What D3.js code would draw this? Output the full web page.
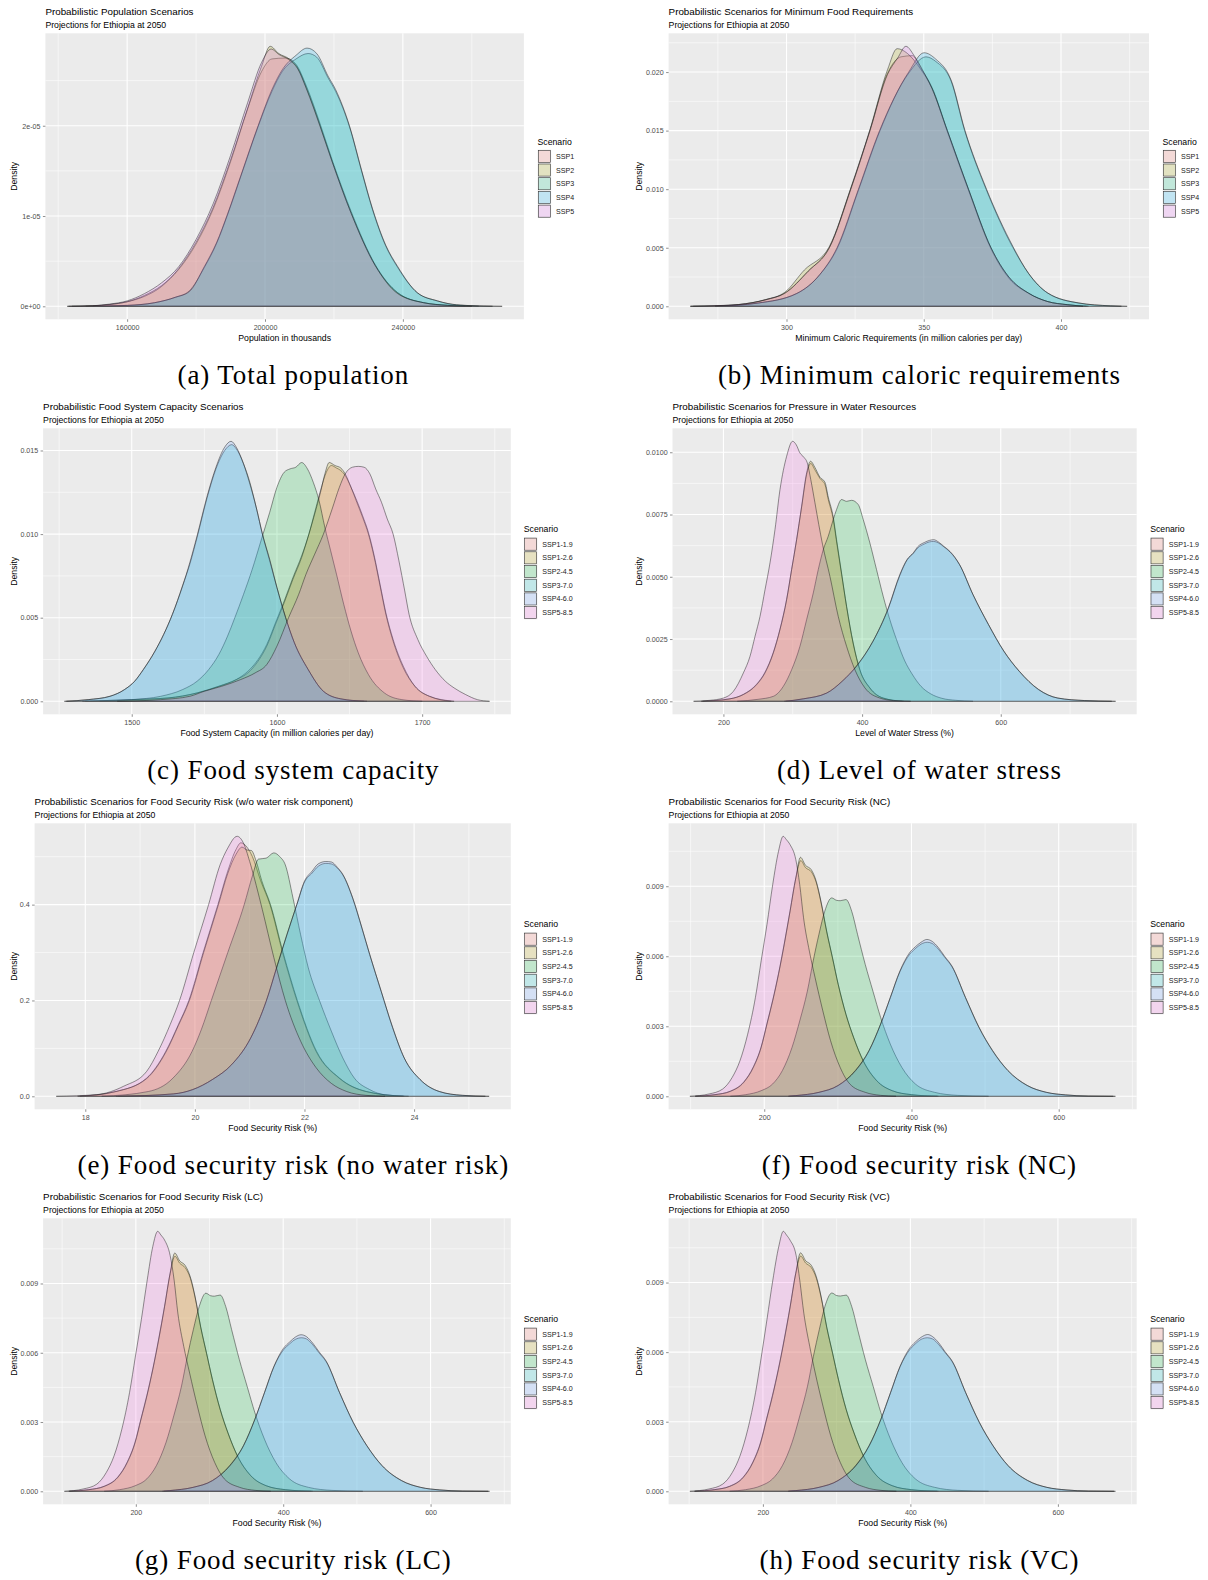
<!DOCTYPE html>
<html>
<head>
<meta charset="utf-8">
<script src="https://cdn.jsdelivr.net/npm/d3@7"></script>
<style>
  body { margin: 0; background: #fff; }
  svg { display: block; }
</style>
</head>
<body>
<svg id="fig" width="1208" height="1580"></svg>
<script>
// ---------- scenario names and ggplot default hue palettes ----------
const scen5 = ["SSP1", "SSP2", "SSP3", "SSP4", "SSP5"];
const scen6 = ["SSP1-1.9", "SSP1-2.6", "SSP2-4.5", "SSP3-7.0", "SSP4-6.0", "SSP5-8.5"];
const pal5 = ["#F8766D", "#A3A500", "#00BF7D", "#00B0F6", "#E76BF3"];
const pal6 = ["#F8766D", "#B79F00", "#00BA38", "#00BFC4", "#619CFF", "#F564E3"];

// ---------- (a) total population: [thousands, density] ----------
const popSSP1 = [[142600,0],[150000,0.006e-5],[155000,0.02e-5],[160000,0.05e-5],[165000,0.12e-5],[170000,0.23e-5],[175000,0.41e-5],[180000,0.69e-5],[185000,1.08e-5],[190000,1.6e-5],[195000,2.19e-5],[199000,2.6e-5],[202000,2.74e-5],[206000,2.75e-5],[209000,2.68e-5],[212000,2.44e-5],[216000,2.02e-5],[219500,1.62e-5],[225000,1.05e-5],[232000,0.46e-5],[238500,0.15e-5],[246000,0.04e-5],[253000,0.01e-5],[258000,0]];
const popSSP2 = [[144000,0],[150000,0.005e-5],[155000,0.02e-5],[160000,0.05e-5],[165000,0.11e-5],[170000,0.22e-5],[175000,0.42e-5],[180000,0.71e-5],[185000,1.1e-5],[190000,1.62e-5],[195000,2.2e-5],[199000,2.66e-5],[201500,2.88e-5],[204000,2.8e-5],[207000,2.74e-5],[209500,2.64e-5],[212000,2.42e-5],[216000,2.0e-5],[219500,1.6e-5],[225000,1.03e-5],[232000,0.45e-5],[238500,0.15e-5],[246000,0.04e-5],[254000,0.01e-5],[262000,0]];
const popSSP3 = [[150000,0],[160000,0.01e-5],[168000,0.04e-5],[174000,0.1e-5],[178000,0.17e-5],[182400,0.43e-5],[186000,0.7e-5],[189200,1.02e-5],[193000,1.44e-5],[198000,1.99e-5],[202000,2.38e-5],[205000,2.6e-5],[209000,2.74e-5],[212500,2.8e-5],[215000,2.76e-5],[218300,2.53e-5],[220500,2.38e-5],[224500,1.99e-5],[228000,1.5e-5],[231200,1.07e-5],[235000,0.67e-5],[238500,0.43e-5],[244200,0.15e-5],[250000,0.06e-5],[253100,0.03e-5],[258000,0.01e-5],[266000,0]];
const popSSP4 = [[148000,0],[160000,0.01e-5],[168000,0.04e-5],[174000,0.1e-5],[178000,0.16e-5],[182400,0.44e-5],[186000,0.71e-5],[189200,1.03e-5],[193000,1.45e-5],[198000,2.0e-5],[202000,2.4e-5],[205000,2.62e-5],[209000,2.78e-5],[212200,2.86e-5],[215000,2.8e-5],[218300,2.55e-5],[220500,2.4e-5],[224500,2.0e-5],[228000,1.51e-5],[231200,1.08e-5],[235000,0.68e-5],[238500,0.44e-5],[244200,0.15e-5],[250000,0.06e-5],[253100,0.03e-5],[258000,0.01e-5],[268800,0]];
const popSSP5 = [[143000,0],[150000,0.006e-5],[155000,0.025e-5],[160000,0.06e-5],[165000,0.14e-5],[170000,0.26e-5],[175000,0.44e-5],[180000,0.74e-5],[185000,1.14e-5],[190000,1.67e-5],[195000,2.26e-5],[199000,2.7e-5],[201800,2.85e-5],[204000,2.79e-5],[207000,2.73e-5],[209500,2.63e-5],[212000,2.41e-5],[216000,1.99e-5],[219500,1.6e-5],[225000,1.03e-5],[232000,0.45e-5],[238500,0.14e-5],[246000,0.04e-5],[253000,0.01e-5],[260000,0]];
const popXTicks = [160000, 200000, 240000];
const popXLabels = ["160000", "200000", "240000"];
const popYTicks = [0, 1e-5, 2e-5];
const popYLabels = ["0e+00", "1e-05", "2e-05"];

// ---------- (b) minimum caloric requirements ----------
const calSSP1 = [[265,0],[275,0.00005],[282.5,0.00014],[292.4,0.00055],[299.4,0.00112],[307.9,0.003],[315.6,0.005],[323.4,0.01],[330.4,0.015],[336.8,0.0199],[341.7,0.0213],[345.9,0.0214],[348.7,0.0204],[353,0.0187],[358.6,0.015],[366.3,0.01],[374.5,0.005],[381,0.0025],[388.2,0.00112],[395.2,0.0004],[402.3,0.00014],[409.3,0]];
const calSSP2 = [[266,0],[275,0.00005],[282.5,0.00015],[292.4,0.00058],[299.4,0.0012],[306.5,0.0031],[315.6,0.0051],[323.4,0.0101],[330.4,0.0151],[336.8,0.0202],[340.3,0.022],[344,0.0216],[348.7,0.0203],[353,0.0186],[358.6,0.0149],[366.3,0.0099],[374.5,0.0049],[381,0.0024],[388.2,0.0011],[395.2,0.0004],[402.3,0.00013],[410,0]];
const calSSP3 = [[274,0],[289.6,0.00027],[303.7,0.00108],[312.1,0.0027],[318.4,0.0049],[326.2,0.0099],[333.9,0.0149],[344.5,0.0199],[350.8,0.0213],[354.4,0.0209],[360,0.0192],[364.9,0.015],[372.7,0.01],[382.5,0.005],[388.2,0.0028],[395.2,0.00112],[406.5,0.00028],[418,0.00004],[422,0]];
const calSSP4 = [[274,0],[289.6,0.00028],[303.7,0.0011],[312.1,0.0027],[318.4,0.005],[326.2,0.01],[333.9,0.015],[344.5,0.02],[350.1,0.02165],[354.4,0.0211],[360,0.0193],[364.9,0.0151],[372.7,0.0101],[382.5,0.0051],[388.2,0.0028],[395.2,0.00113],[406.5,0.00028],[418,0.00004],[424.1,0]];
const calSSP5 = [[265,0],[275,0.00006],[282.5,0.00015],[292.4,0.00056],[299.4,0.00112],[307.9,0.003],[315.6,0.005],[323.4,0.01],[330.4,0.015],[336.8,0.0198],[340.5,0.0212],[343.5,0.0222],[346.5,0.0214],[349.5,0.0202],[353,0.0186],[358.6,0.015],[366.3,0.01],[374.5,0.005],[381,0.0025],[388.2,0.00112],[395.2,0.0004],[402.3,0.00014],[408,0]];
const calXTicks = [300, 350, 400];
const calXLabels = ["300", "350", "400"];
const calYTicks = [0, 0.005, 0.01, 0.015, 0.02];
const calYLabels = ["0.000", "0.005", "0.010", "0.015", "0.020"];

// ---------- (c) food system capacity ----------
const capSSP119 = [[1468,0],[1500,0.0001],[1525,0.0002],[1545,0.0005],[1560,0.0009],[1572,0.0013],[1580,0.0018],[1587,0.0025],[1593,0.0034],[1599,0.0047],[1605,0.006],[1611,0.0074],[1617,0.0087],[1622,0.01],[1626,0.0113],[1630,0.0126],[1634,0.0137],[1637.5,0.0141],[1641,0.01395],[1644,0.0138],[1647,0.0135],[1651,0.0128],[1655,0.012],[1659,0.0111],[1663,0.0101],[1667,0.0087],[1671,0.007],[1675,0.0053],[1680,0.0037],[1687,0.0021],[1695,0.0009],[1705,0.0003],[1722,0]];
const capSSP126 = [[1466,0],[1500,0.0001],[1525,0.0002],[1545,0.0005],[1560,0.0009],[1572,0.0013],[1580,0.0017],[1587,0.0024],[1593,0.0033],[1599,0.0046],[1605,0.0059],[1611,0.0073],[1617,0.0086],[1622,0.01],[1626,0.0112],[1630,0.0125],[1633,0.0136],[1636,0.01428],[1640,0.0141],[1644,0.01395],[1647,0.0136],[1651,0.0128],[1655,0.0119],[1659,0.011],[1663,0.01],[1667,0.0086],[1671,0.0069],[1675,0.0052],[1680,0.0036],[1687,0.002],[1695,0.0009],[1705,0.0003],[1720,0]];
const capSSP245 = [[1478,0],[1500,0.0001],[1520,0.0003],[1535,0.0007],[1545,0.0012],[1553,0.0019],[1560,0.0028],[1566,0.0039],[1571,0.005],[1577,0.0064],[1583,0.0079],[1589,0.0096],[1595,0.0113],[1600,0.0128],[1605,0.0137],[1609,0.0139],[1613,0.014],[1617,0.01428],[1621,0.0139],[1625,0.0131],[1629,0.012],[1633,0.0104],[1637,0.009],[1641,0.0076],[1646,0.0058],[1651,0.0042],[1656,0.0029],[1663,0.0016],[1674,0.0005],[1686,0.0001],[1700,0]];
const capSSP370 = [[1455,0],[1470,0.0001],[1485,0.0003],[1495,0.0007],[1502,0.0012],[1508,0.0019],[1516,0.003],[1522,0.004],[1528,0.0052],[1535,0.0069],[1540,0.0082],[1545,0.0098],[1552,0.0122],[1558,0.0139],[1564,0.015],[1568.8,0.01535],[1572,0.0151],[1577,0.0142],[1581,0.0132],[1586,0.0115],[1590,0.01],[1595,0.0084],[1600,0.0068],[1606,0.005],[1612,0.0035],[1621.5,0.0019],[1632,0.0006],[1644,0.00014],[1660,0]];
const capSSP460 = [[1453.6,0],[1470,0.0001],[1485,0.0003],[1495,0.0007],[1502,0.0012],[1508,0.0019],[1516,0.003],[1522,0.004],[1528,0.0052],[1535,0.0069],[1540,0.0083],[1545,0.0099],[1552,0.0123],[1558,0.014],[1564,0.0152],[1568.4,0.01555],[1572,0.0152],[1577,0.0142],[1581,0.0131],[1586,0.0115],[1590,0.01],[1595,0.0085],[1600,0.0068],[1606,0.005],[1612,0.0035],[1621.5,0.0019],[1632,0.0006],[1644,0.00015],[1662,0]];
const capSSP585 = [[1490,0],[1520,0.0001],[1540,0.0003],[1550,0.0006],[1562,0.0009],[1575,0.0013],[1585,0.0017],[1593,0.0022],[1600,0.0033],[1608,0.005],[1615,0.0064],[1620,0.0076],[1626,0.0088],[1632,0.01],[1638,0.0115],[1643,0.0128],[1647,0.0136],[1652,0.014],[1656,0.01405],[1660,0.014],[1664,0.0136],[1668,0.0127],[1672,0.0119],[1676,0.0109],[1680,0.01],[1684,0.0084],[1688,0.0066],[1691,0.0052],[1697,0.0037],[1703,0.0027],[1709,0.0019],[1716,0.0012],[1722,0.0008],[1730,0.0004],[1738,0.0001],[1746.4,0]];
const capXTicks = [1500, 1600, 1700];
const capXLabels = ["1500", "1600", "1700"];
const capYTicks = [0, 0.005, 0.01, 0.015];
const capYLabels = ["0.000", "0.005", "0.010", "0.015"];

// ---------- (d) level of water stress ----------
const waterSSP119 = [[168,0],[209.6,0.0001],[228.8,0.00028],[248,0.00069],[260,0.00117],[272,0.00197],[281.6,0.0029],[291.2,0.0041],[298.4,0.0053],[305.6,0.0065],[312.8,0.0078],[320,0.0091],[326,0.00955],[331.8,0.0093],[339.2,0.00895],[346.4,0.0087],[351.2,0.0081],[358.4,0.0073],[363.2,0.0064],[370.4,0.0051],[377.6,0.0038],[387.2,0.0023],[396.8,0.00125],[411.2,0.00053],[430.4,0.00013],[458,0]];
const waterSSP126 = [[170,0],[209.6,0.0001],[228.8,0.00027],[248,0.00067],[260,0.00114],[272,0.00194],[281.6,0.00288],[291.2,0.00408],[298.4,0.00529],[305.6,0.00649],[312.8,0.00783],[320,0.00917],[325.7,0.00964],[331.8,0.0094],[339.2,0.009],[346.4,0.0088],[351.2,0.0082],[358.4,0.0074],[363.2,0.00649],[370.4,0.00515],[377.6,0.00382],[387.2,0.00234],[396.8,0.00127],[411.2,0.00054],[430.4,0.00013],[460,0]];
const waterSSP245 = [[220,0],[250,0.00008],[272,0.0002],[286.4,0.0006],[298.4,0.00127],[310.4,0.00221],[320,0.00328],[329.6,0.00435],[336.8,0.00529],[344,0.00609],[351.2,0.00663],[358.4,0.0073],[363.2,0.0077],[370.4,0.0081],[377.6,0.00803],[384.8,0.00807],[394.4,0.0079],[401.6,0.0073],[411.2,0.00636],[420.8,0.00529],[430.4,0.00422],[440,0.00328],[449.6,0.00248],[461.6,0.00162],[472,0.0011],[485,0.0006],[498.9,0.0003],[515,0.00012],[535,0.00004],[560,0]];
const waterSSP370 = [[290,0],[315.6,0.0001],[348.9,0.00033],[371.1,0.0008],[393.3,0.00145],[415.6,0.0024],[437.8,0.00372],[454.4,0.00505],[465,0.00568],[473.9,0.00594],[480,0.00615],[490,0.00632],[497,0.0064],[503.3,0.00642],[510,0.00636],[518,0.0062],[526.7,0.006],[540.6,0.00548],[560,0.00428],[582.2,0.00309],[604.4,0.00202],[626.7,0.00121],[654.4,0.00048],[682.2,0.00013],[721,0.00003],[760,0]];
const waterSSP460 = [[287.8,0],[315.6,0.0001],[348.9,0.00033],[371.1,0.0008],[393.3,0.00147],[415.6,0.00241],[437.8,0.00375],[454.4,0.00509],[465,0.0057],[473.9,0.00596],[480,0.0062],[490,0.00638],[497,0.00646],[503.3,0.00649],[510,0.0064],[518,0.00622],[526.7,0.00602],[540.6,0.00549],[560,0.00428],[582.2,0.00308],[604.4,0.00201],[626.7,0.0012],[654.4,0.00047],[682.2,0.00013],[721,0.00003],[765.6,0]];
const waterSSP585 = [[157,0],[180.8,0.00004],[200,0.00013],[214.4,0.0004],[228.8,0.00114],[238.4,0.00181],[245.6,0.00261],[252.8,0.00341],[260,0.00448],[267.2,0.00556],[274.4,0.0069],[281.6,0.0085],[291.2,0.00984],[299.8,0.01044],[305,0.0103],[310.4,0.00997],[316,0.0098],[321,0.00957],[326,0.0089],[332,0.00797],[337.5,0.0071],[343,0.00629],[353.6,0.00502],[365.6,0.00341],[377.6,0.00221],[389.6,0.00127],[404,0.00054],[425.6,0.00013],[445,0.00003],[470,0]];
const waterXTicks = [200, 400, 600];
const waterXLabels = ["200", "400", "600"];
const waterYTicks = [0, 0.0025, 0.005, 0.0075, 0.01];
const waterYLabels = ["0.0000", "0.0025", "0.0050", "0.0075", "0.0100"];

// ---------- (e) food security risk without the water component ----------
const fsrSSP119 = [[17.86,0],[18.56,0.01],[19.12,0.038],[19.47,0.094],[19.7,0.15],[19.89,0.2],[20.15,0.3],[20.42,0.4],[20.6,0.47],[20.75,0.515],[20.84,0.529],[20.95,0.52],[21.05,0.5],[21.2,0.45],[21.37,0.4],[21.6,0.3],[21.86,0.2],[22.21,0.094],[22.63,0.038],[23.12,0.01],[23.82,0]];
const fsrSSP126 = [[17.9,0],[18.56,0.01],[19.12,0.037],[19.47,0.092],[19.7,0.148],[19.9,0.2],[20.16,0.3],[20.43,0.4],[20.6,0.465],[20.75,0.505],[20.86,0.52],[20.95,0.514],[21.03,0.513],[21.12,0.49],[21.22,0.45],[21.38,0.4],[21.61,0.3],[21.87,0.2],[22.22,0.094],[22.64,0.038],[23.13,0.01],[23.8,0]];
const fsrSSP245 = [[18.3,0],[19.15,0.01],[19.6,0.038],[19.95,0.094],[20.12,0.14],[20.3,0.2],[20.6,0.3],[20.9,0.4],[21.05,0.46],[21.16,0.495],[21.3,0.497],[21.44,0.508],[21.55,0.5],[21.65,0.483],[21.79,0.414],[21.93,0.337],[22.07,0.268],[22.28,0.198],[22.49,0.136],[22.7,0.08],[22.91,0.038],[23.19,0.014],[23.47,0.003],[23.9,0]];
const fsrSSP370 = [[18.6,0],[19.61,0.005],[19.96,0.014],[20.32,0.035],[20.67,0.066],[21.02,0.122],[21.3,0.198],[21.51,0.276],[21.68,0.338],[21.86,0.4],[22.0,0.447],[22.14,0.466],[22.25,0.48],[22.39,0.486],[22.49,0.485],[22.6,0.476],[22.7,0.462],[22.88,0.413],[23.05,0.35],[23.19,0.296],[23.4,0.219],[23.61,0.143],[23.82,0.08],[24.11,0.035],[24.46,0.01],[24.88,0.002],[25.3,0]];
const fsrSSP460 = [[18.56,0],[19.61,0.005],[19.96,0.014],[20.32,0.035],[20.67,0.066],[21.02,0.122],[21.3,0.198],[21.51,0.275],[21.68,0.337],[21.86,0.4],[22.0,0.449],[22.14,0.47],[22.25,0.485],[22.39,0.49],[22.49,0.489],[22.6,0.478],[22.7,0.463],[22.88,0.414],[23.05,0.351],[23.19,0.296],[23.4,0.219],[23.61,0.143],[23.82,0.08],[24.11,0.035],[24.46,0.01],[24.88,0.002],[25.37,0]];
const fsrSSP585 = [[17.47,0],[18.21,0.0035],[18.7,0.021],[19.12,0.052],[19.33,0.094],[19.55,0.15],[19.72,0.2],[19.98,0.3],[20.25,0.4],[20.46,0.483],[20.6,0.518],[20.77,0.5426],[20.88,0.53],[21.0,0.49],[21.12,0.44],[21.23,0.39],[21.44,0.29],[21.65,0.2],[21.93,0.115],[22.21,0.06],[22.49,0.027],[22.77,0.01],[23.12,0.002],[23.47,0]];
const fsrXTicks = [18, 20, 22, 24];
const fsrXLabels = ["18", "20", "22", "24"];
const fsrYTicks = [0, 0.2, 0.4];
const fsrYLabels = ["0.0", "0.2", "0.4"];

// ---------- (f) food security risk, NC ----------
const ncSSP119 = [[106,0],[133,0.00007],[153.9,0.00022],[172.3,0.00062],[185.3,0.00127],[195.8,0.00212],[203.7,0.00312],[211.5,0.00412],[219.4,0.00526],[227.2,0.00654],[235.1,0.00795],[242.9,0.00935],[249.6,0.0101],[256,0.0098],[263.9,0.00962],[270.7,0.00915],[277,0.00832],[284.8,0.00705],[292.7,0.00592],[300.5,0.00478],[311,0.0035],[321.5,0.0025],[334.6,0.0015],[352.9,0.00066],[373.8,0.00024],[400,0.00007],[435,0]];
const ncSSP126 = [[106.8,0],[133,0.00007],[153.9,0.00021],[172.3,0.0006],[185.3,0.00124],[195.8,0.00209],[203.7,0.00309],[211.5,0.00409],[219.4,0.00523],[227.2,0.00651],[235.1,0.00793],[242.9,0.00936],[249.2,0.01024],[256,0.0099],[263.9,0.00971],[270.7,0.00921],[277,0.00836],[284.8,0.00708],[292.7,0.00594],[300.5,0.0048],[311,0.00352],[321.5,0.00252],[334.6,0.00152],[352.9,0.00067],[373.8,0.00024],[400,0.00007],[436.6,0]];
const ncSSP245 = [[154,0],[174.9,0.00007],[195.8,0.00024],[211.5,0.00053],[224.6,0.0011],[237.7,0.00209],[248.2,0.00323],[258.6,0.00451],[266.5,0.0058],[274.3,0.00694],[282.2,0.00793],[291.6,0.0085],[298,0.0084],[303.1,0.00838],[311,0.00843],[318.8,0.00793],[326.7,0.00694],[337.2,0.00565],[347.6,0.00451],[358.1,0.00338],[371.2,0.00224],[386.9,0.00124],[405.2,0.00053],[431.4,0.00017],[462.8,0.00004],[504.7,0]];
const ncSSP370 = [[234,0],[242.9,0.00003],[274.3,0.00017],[300.5,0.00047],[324.1,0.00112],[342.4,0.00197],[358.1,0.0031],[371.2,0.00422],[384.3,0.00534],[397.4,0.00608],[405,0.00632],[413,0.00652],[421.5,0.0066],[428,0.00655],[436.6,0.0063],[445,0.00596],[455,0.00555],[473.3,0.00424],[491.6,0.00297],[510,0.00197],[530.9,0.00111],[557.1,0.00047],[583.2,0.00017],[609.4,0.00006],[640,0.00001],[674,0]];
const ncSSP460 = [[232.5,0],[242.9,0.00003],[274.3,0.00017],[300.5,0.00046],[324.1,0.0011],[342.4,0.00195],[358.1,0.00309],[371.2,0.00423],[384.3,0.00537],[397.4,0.00615],[405,0.0064],[413,0.0066],[420.9,0.00672],[428,0.00664],[436.6,0.00637],[445,0.006],[455,0.00558],[473.3,0.00423],[491.6,0.00295],[510,0.00195],[530.9,0.0011],[557.1,0.00046],[583.2,0.00017],[609.4,0.00006],[640,0.00001],[677,0]];
const ncSSP585 = [[99,0],[125.1,0.0001],[143.5,0.00031],[156.5,0.00081],[167,0.00152],[177.5,0.00266],[188,0.00423],[195.8,0.0058],[203.7,0.00736],[211.5,0.00907],[219.4,0.0105],[225.7,0.01114],[230,0.011],[235.1,0.01078],[242.9,0.01014],[248.2,0.00907],[253.4,0.00765],[261.3,0.00622],[269.1,0.00508],[279.6,0.00366],[290.1,0.00238],[303.1,0.00124],[316.2,0.00053],[337.2,0.00017],[358.1,0.00004],[379,0]];

// ---------- (g) food security risk, LC ----------
const lcSSP119 = [[109,0],[136,0.00007],[157,0.00022],[175.5,0.00062],[188.5,0.00128],[199,0.00214],[207,0.00315],[215,0.00416],[223,0.0053],[231,0.0066],[239,0.00802],[246.5,0.00942],[253,0.01018],[259.5,0.00988],[267,0.00968],[274,0.00922],[280.5,0.00838],[288,0.0071],[296,0.00596],[304,0.00482],[314.5,0.00353],[325,0.00252],[338,0.00152],[356,0.00067],[377,0.00024],[403,0.00007],[438,0]];
const lcSSP126 = [[110,0],[136,0.00007],[157,0.00021],[175.5,0.0006],[188.5,0.00125],[199,0.0021],[207,0.00311],[215,0.00412],[223,0.00527],[231,0.00656],[239,0.00799],[246.5,0.00944],[252.8,0.01032],[259.5,0.00998],[267,0.00978],[274,0.00928],[280.5,0.00842],[288,0.00713],[296,0.00598],[304,0.00484],[314.5,0.00355],[325,0.00254],[338,0.00153],[356,0.00068],[377,0.00024],[403,0.00007],[440,0]];
const lcSSP245 = [[157,0],[178,0.00007],[199,0.00024],[215,0.00054],[228,0.00112],[241,0.00212],[251.5,0.00327],[262,0.00456],[270,0.00585],[278,0.007],[286,0.008],[295,0.00858],[301.5,0.00847],[306.5,0.00845],[314.5,0.0085],[322,0.008],[330,0.007],[340.5,0.0057],[351,0.00455],[361.5,0.00341],[374.5,0.00226],[390,0.00125],[408.5,0.00054],[434.5,0.00017],[466,0.00004],[508,0]];
const lcSSP370 = [[238,0],[246,0.00003],[277.5,0.00017],[304,0.00047],[327.5,0.00112],[346,0.00198],[361.5,0.00312],[374.5,0.00426],[387.5,0.0054],[400.5,0.00613],[408.5,0.00638],[416.5,0.00658],[425,0.00665],[431.5,0.0066],[440,0.00635],[448.5,0.006],[458.5,0.0056],[476.5,0.00427],[495,0.00299],[513.5,0.00198],[534,0.00112],[560.5,0.00047],[586.5,0.00017],[612.5,0.00006],[643,0.00001],[678,0]];
const lcSSP460 = [[236,0],[246,0.00003],[277.5,0.00017],[304,0.00046],[327.5,0.0011],[346,0.00196],[361.5,0.00311],[374.5,0.00427],[387.5,0.00542],[400.5,0.0062],[408.5,0.00646],[416.5,0.00668],[424.2,0.00678],[431.5,0.0067],[440,0.00642],[448.5,0.00605],[458.5,0.00563],[476.5,0.00427],[495,0.00298],[513.5,0.00197],[534,0.00111],[560.5,0.00046],[586.5,0.00017],[612.5,0.00006],[643,0.00001],[680,0]];
const lcSSP585 = [[103,0],[128.5,0.0001],[147,0.00031],[160,0.00082],[170.5,0.00154],[181,0.00269],[191.5,0.00428],[199.5,0.00586],[207.5,0.00744],[215.5,0.00916],[223,0.0106],[229.7,0.01126],[234,0.0111],[239,0.01088],[246.5,0.01022],[252,0.00914],[257,0.00772],[265,0.00628],[273,0.00512],[283.5,0.00369],[294,0.0024],[307,0.00125],[320,0.00054],[341,0.00017],[362,0.00004],[383,0]];

// ---------- (h) food security risk, VC ----------
const vcSSP119 = [[107,0],[134,0.00007],[155,0.00022],[173.5,0.00062],[186.5,0.00127],[197,0.00213],[205,0.00313],[213,0.00414],[221,0.00528],[229,0.00657],[237,0.00798],[244.5,0.00938],[251.2,0.01014],[258,0.00984],[265.5,0.00965],[272.5,0.00918],[279,0.00835],[286.5,0.00707],[294.5,0.00594],[302.5,0.0048],[313,0.00351],[323.5,0.00251],[336.5,0.00151],[354.5,0.00066],[375.5,0.00024],[401.5,0.00007],[436,0]];
const vcSSP126 = [[108,0],[134,0.00007],[155,0.00021],[173.5,0.0006],[186.5,0.00124],[197,0.00209],[205,0.0031],[213,0.0041],[221,0.00524],[229,0.00653],[237,0.00795],[244.5,0.0094],[251,0.01028],[258,0.00994],[265.5,0.00975],[272.5,0.00925],[279,0.00839],[286.5,0.0071],[294.5,0.00596],[302.5,0.00482],[313,0.00353],[323.5,0.00253],[336.5,0.00152],[354.5,0.00067],[375.5,0.00024],[401.5,0.00007],[438,0]];
const vcSSP245 = [[155,0],[176.5,0.00007],[197.5,0.00024],[213,0.00053],[226.5,0.00111],[239.5,0.0021],[250,0.00325],[260.5,0.00453],[268.5,0.00582],[276.5,0.00697],[284,0.00796],[293.5,0.00855],[300,0.00844],[305,0.00842],[313,0.00846],[320.5,0.00796],[328.5,0.00697],[339,0.00567],[349.5,0.00453],[360,0.00339],[373,0.00225],[388.5,0.00124],[407,0.00053],[433,0.00017],[464.5,0.00004],[506,0]];
const vcSSP370 = [[235,0],[244.5,0.00003],[276,0.00017],[302,0.00047],[326,0.00112],[344,0.00197],[360,0.00311],[373,0.00424],[386,0.00537],[399,0.0061],[406.5,0.00635],[414.5,0.00655],[423,0.00662],[430,0.00657],[438.5,0.00632],[447,0.00598],[457,0.00557],[475,0.00425],[493.5,0.00298],[512,0.00197],[532.5,0.00111],[559,0.00047],[585,0.00017],[611,0.00006],[641.5,0.00001],[676,0]];
const vcSSP460 = [[234,0],[244.5,0.00003],[276,0.00017],[302,0.00046],[326,0.0011],[344,0.00195],[360,0.0031],[373,0.00425],[386,0.00539],[399,0.00617],[406.5,0.00643],[414.5,0.00664],[423.5,0.00676],[430,0.00667],[438.5,0.0064],[447,0.00602],[457,0.0056],[475,0.00425],[493.5,0.00296],[512,0.00196],[532.5,0.0011],[559,0.00046],[585,0.00017],[611,0.00006],[641.5,0.00001],[678,0]];
const vcSSP585 = [[101,0],[127,0.0001],[145.5,0.00031],[158.5,0.00081],[169,0.00153],[179.5,0.00267],[190,0.00425],[198,0.00583],[205.5,0.0074],[213.5,0.00911],[221.5,0.01055],[227.7,0.01121],[232,0.01105],[237,0.01082],[245,0.01018],[250,0.0091],[255.5,0.00768],[263.5,0.00625],[271,0.0051],[281.5,0.00367],[292,0.00239],[305,0.00124],[318,0.00053],[339,0.00017],[360,0.00004],[381,0]];

const riskXTicks = [200, 400, 600];
const riskXLabels = ["200", "400", "600"];
const riskYTicks = [0, 0.003, 0.006, 0.009];
const riskYLabels = ["0.000", "0.003", "0.006", "0.009"];

// ---------- panel layout ----------
const SUB = "Projections for Ethiopia at 2050";
const panels = [
  { row: 0, col: 0, bgX: [45.4, 523.9], legX: 537.5,
    title: "Probabilistic Population Scenarios", xlab: "Population in thousands", caption: "(a) Total population",
    names: scen5, colors: pal5, series: [popSSP1, popSSP2, popSSP3, popSSP4, popSSP5],
    xt: popXTicks, xl: popXLabels, yt: popYTicks, yl: popYLabels },
  { row: 0, col: 1, bgX: [668.6, 1149], legX: 1162.5,
    title: "Probabilistic Scenarios for Minimum Food Requirements", xlab: "Minimum Caloric Requirements (in million calories per day)", caption: "(b) Minimum caloric requirements",
    names: scen5, colors: pal5, series: [calSSP1, calSSP2, calSSP3, calSSP4, calSSP5],
    xt: calXTicks, xl: calXLabels, yt: calYTicks, yl: calYLabels },
  { row: 1, col: 0, bgX: [43.1, 510.8], legX: 523.8,
    title: "Probabilistic Food System Capacity Scenarios", xlab: "Food System Capacity (in million calories per day)", caption: "(c) Food system capacity",
    names: scen6, colors: pal6, series: [capSSP119, capSSP126, capSSP245, capSSP370, capSSP460, capSSP585],
    xt: capXTicks, xl: capXLabels, yt: capYTicks, yl: capYLabels },
  { row: 1, col: 1, bgX: [672.5, 1136.7], legX: 1150.2,
    title: "Probabilistic Scenarios for Pressure in Water Resources", xlab: "Level of Water Stress (%)", caption: "(d) Level of water stress",
    names: scen6, colors: pal6, series: [waterSSP119, waterSSP126, waterSSP245, waterSSP370, waterSSP460, waterSSP585],
    xt: waterXTicks, xl: waterXLabels, yt: waterYTicks, yl: waterYLabels },
  { row: 2, col: 0, bgX: [34.6, 510.8], legX: 523.8,
    title: "Probabilistic Scenarios for Food Security Risk (w/o water risk component)", xlab: "Food Security Risk (%)", caption: "(e) Food security risk (no water risk)",
    names: scen6, colors: pal6, series: [fsrSSP119, fsrSSP126, fsrSSP245, fsrSSP370, fsrSSP460, fsrSSP585],
    xt: fsrXTicks, xl: fsrXLabels, yt: fsrYTicks, yl: fsrYLabels },
  { row: 2, col: 1, bgX: [668.6, 1136.7], legX: 1150.2,
    title: "Probabilistic Scenarios for Food Security Risk (NC)", xlab: "Food Security Risk (%)", caption: "(f) Food security risk (NC)",
    names: scen6, colors: pal6, series: [ncSSP119, ncSSP126, ncSSP245, ncSSP370, ncSSP460, ncSSP585],
    xt: riskXTicks, xl: riskXLabels, yt: riskYTicks, yl: riskYLabels },
  { row: 3, col: 0, bgX: [43.1, 510.8], legX: 523.8,
    title: "Probabilistic Scenarios for Food Security Risk (LC)", xlab: "Food Security Risk (%)", caption: "(g) Food security risk (LC)",
    names: scen6, colors: pal6, series: [lcSSP119, lcSSP126, lcSSP245, lcSSP370, lcSSP460, lcSSP585],
    xt: riskXTicks, xl: riskXLabels, yt: riskYTicks, yl: riskYLabels },
  { row: 3, col: 1, bgX: [668.6, 1136.7], legX: 1150.2,
    title: "Probabilistic Scenarios for Food Security Risk (VC)", xlab: "Food Security Risk (%)", caption: "(h) Food security risk (VC)",
    names: scen6, colors: pal6, series: [vcSSP119, vcSSP126, vcSSP245, vcSSP370, vcSSP460, vcSSP585],
    xt: riskXTicks, xl: riskXLabels, yt: riskYTicks, yl: riskYLabels }
];

const SANS = "'Liberation Sans', Arial, sans-serif";
const SERIF = "'Liberation Serif', 'Times New Roman', serif";
const ROW_H = 395;
const svg = d3.select("#fig");

// minor breaks sit halfway between major breaks, as in ggplot2
function minorBreaks(majors, dom) {
  const step = majors[1] - majors[0];
  const out = [];
  for (let v = majors[0] - step / 2; v <= dom[1]; v += step) {
    if (v >= dom[0]) out.push(v);
  }
  return out;
}

function drawPanel(p) {
  const g = svg.append("g");
  const [x0, x1] = p.bgX;
  const y0 = 33.3 + ROW_H * p.row;
  const y1 = 319.3 + ROW_H * p.row;

  // scales: data range expanded by 5% on each side
  const pts = p.series.flat();
  const xmin = d3.min(pts, d => d[0]), xmax = d3.max(pts, d => d[0]);
  const ymax = d3.max(pts, d => d[1]);
  const xpad = (xmax - xmin) * 0.05;
  const xs = d3.scaleLinear().domain([xmin - xpad, xmax + xpad]).range([x0, x1]);
  const ys = d3.scaleLinear().domain([-ymax * 0.05, ymax * 1.05]).range([y1, y0]);

  // panel background and grid
  g.append("rect").attr("x", x0).attr("y", y0).attr("width", x1 - x0).attr("height", y1 - y0).attr("fill", "#EBEBEB");
  const grid = g.append("g");
  minorBreaks(p.xt, xs.domain()).forEach(v => grid.append("line")
    .attr("x1", xs(v)).attr("x2", xs(v)).attr("y1", y0).attr("y2", y1)
    .attr("stroke", "#fff").attr("stroke-width", 0.55));
  minorBreaks(p.yt, ys.domain()).forEach(v => grid.append("line")
    .attr("x1", x0).attr("x2", x1).attr("y1", ys(v)).attr("y2", ys(v))
    .attr("stroke", "#fff").attr("stroke-width", 0.55));
  p.xt.forEach(v => grid.append("line")
    .attr("x1", xs(v)).attr("x2", xs(v)).attr("y1", y0).attr("y2", y1)
    .attr("stroke", "#fff").attr("stroke-width", 1.1));
  p.yt.forEach(v => grid.append("line")
    .attr("x1", x0).attr("x2", x1).attr("y1", ys(v)).attr("y2", ys(v))
    .attr("stroke", "#fff").attr("stroke-width", 1.1));

  // densities, drawn in legend order with translucent fills
  const area = d3.area().x(d => xs(d[0])).y0(ys(0)).y1(d => ys(d[1])).curve(d3.curveMonotoneX);
  const line = d3.line().x(d => xs(d[0])).y(d => ys(d[1])).curve(d3.curveMonotoneX);
  p.series.forEach((s, i) => {
    g.append("path").attr("d", area(s)).attr("fill", p.colors[i]).attr("fill-opacity", 0.2);
    g.append("line").attr("x1", xs(s[0][0])).attr("x2", xs(s[s.length - 1][0]))
      .attr("y1", ys(0)).attr("y2", ys(0))
      .attr("stroke", "#555").attr("stroke-width", 0.8).attr("stroke-opacity", 0.8);
    g.append("path").attr("d", line(s)).attr("fill", "none")
      .attr("stroke", "#1a1a1a").attr("stroke-width", 0.55).attr("stroke-opacity", 0.85);
  });

  // axes
  const gx = g.append("g").attr("transform", `translate(0,${y1})`)
    .call(d3.axisBottom(xs).tickValues(p.xt).tickFormat((d, i) => p.xl[i]).tickSize(2.5).tickPadding(3.6));
  const gy = g.append("g").attr("transform", `translate(${x0},0)`)
    .call(d3.axisLeft(ys).tickValues(p.yt).tickFormat((d, i) => p.yl[i]).tickSize(2.5).tickPadding(2.4));
  [gx, gy].forEach(a => {
    a.select(".domain").remove();
    a.attr("font-family", SANS).attr("font-size", 7.1);
    a.selectAll("line").attr("stroke", "#333").attr("stroke-width", 0.55);
    a.selectAll("text").attr("fill", "#4D4D4D");
  });

  // titles
  g.append("text").attr("x", x0).attr("y", 14.5 + ROW_H * p.row)
    .attr("font-family", SANS).attr("font-size", 9.8).attr("fill", "#000").text(p.title);
  g.append("text").attr("x", x0).attr("y", 27.8 + ROW_H * p.row)
    .attr("font-family", SANS).attr("font-size", 8.7).attr("fill", "#000").text(SUB);
  g.append("text").attr("x", (x0 + x1) / 2).attr("y", y1 + 21.3).attr("text-anchor", "middle")
    .attr("font-family", SANS).attr("font-size", 8.7).attr("fill", "#000").text(p.xlab);
  const yx = p.col === 0 ? 16.5 : 642.4;
  g.append("text").attr("transform", `translate(${yx},${(y0 + y1) / 2}) rotate(-90)`)
    .attr("text-anchor", "middle").attr("font-family", SANS).attr("font-size", 8.7).attr("fill", "#000").text("Density");

  // legend
  const keyH = 13.7;
  const top = (p.names.length === 5 ? 149.5 : 142.3) + ROW_H * p.row;
  const leg = g.append("g");
  leg.append("text").attr("x", p.legX).attr("y", top - 5)
    .attr("font-family", SANS).attr("font-size", 8.7).attr("fill", "#000").text("Scenario");
  p.names.forEach((nm, i) => {
    const ky = top + i * keyH;
    leg.append("rect").attr("x", p.legX).attr("y", ky).attr("width", keyH).attr("height", keyH).attr("fill", "#F2F2F2");
    leg.append("rect").attr("x", p.legX + 0.8).attr("y", ky + 0.8).attr("width", keyH - 1.6).attr("height", keyH - 1.6)
      .attr("fill", p.colors[i]).attr("fill-opacity", 0.2).attr("stroke", "#333").attr("stroke-width", 0.6);
    leg.append("text").attr("x", p.legX + 18.5).attr("y", ky + keyH / 2 + 2.5)
      .attr("font-family", SANS).attr("font-size", 7.1).attr("fill", "#1a1a1a").text(nm);
  });

  // sub-figure caption
  g.append("text").attr("x", p.col === 0 ? 293.3 : 919.4).attr("y", 384 + ROW_H * p.row)
    .attr("text-anchor", "middle").attr("font-family", SERIF).attr("font-size", 27)
    .attr("letter-spacing", 0.9).attr("fill", "#000").text(p.caption);
}

panels.forEach(drawPanel);
</script>
</body>
</html>
